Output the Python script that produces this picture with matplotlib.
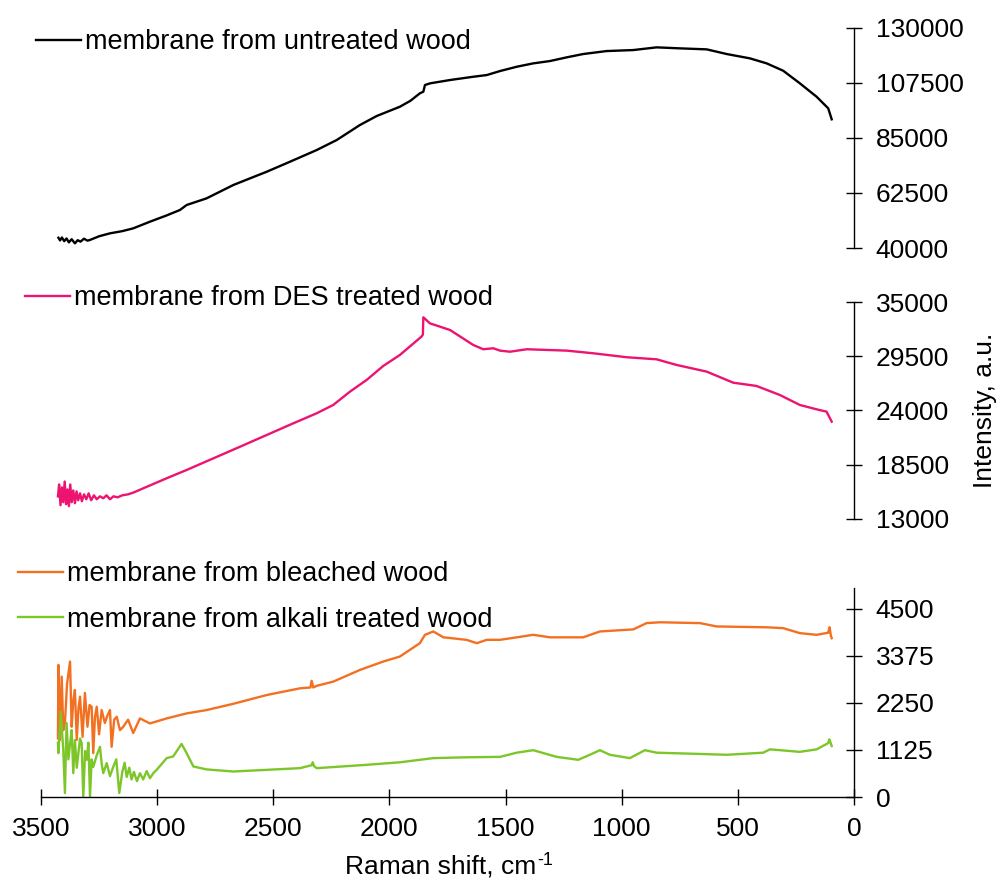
import matplotlib
matplotlib.use("Agg")
import matplotlib.pyplot as plt

plt.rcParams['font.family'] = ['Liberation Sans', 'DejaVu Sans']

# Raman spectra: shift in cm-1, intensity in a.u.
untreated_x = [3425, 3418, 3410, 3400, 3390, 3380, 3368, 3354, 3342, 3330, 3315, 3300,
               3289, 3250, 3203, 3150, 3103, 3031, 2960, 2902, 2873, 2787, 2672, 2600,
               2528, 2428, 2313, 2227, 2127, 2055, 1955, 1910, 1869, 1854, 1847, 1825,
               1739, 1639, 1581, 1524, 1452, 1381, 1309, 1237, 1166, 1065, 950, 850,
               749, 634, 548, 448, 376, 305, 233, 161, 111, 96]
untreated_y = [44200, 43100, 44300, 42800, 43900, 42300, 43600, 41900, 43200, 42600, 43800, 43000,
               43300, 44800, 46000, 46900, 48040, 50760, 53300, 55540, 57590, 60320, 65770, 68500,
               71210, 75300, 80080, 84170, 90310, 93990, 97790, 100200, 103270, 103950, 106670, 107360,
               108720, 110060, 110750, 112390, 114150, 115530, 116480, 117990, 119350, 120570, 120980, 122080,
               121670, 121260, 119350, 117580, 115530, 112530, 107360, 101880, 97140, 92640]

des_x = [3427, 3422, 3416, 3410, 3404, 3398, 3392, 3386, 3380, 3374, 3368, 3361,
         3354, 3347, 3340, 3332, 3324, 3315, 3305, 3295, 3284, 3272, 3260, 3246,
         3232, 3218, 3203, 3188, 3170, 3150, 3125, 3100, 3060, 2959, 2873, 2758,
         2643, 2528, 2414, 2313, 2242, 2170, 2098, 2027, 1955, 1862, 1856, 1854,
         1826, 1739, 1639, 1596, 1553, 1524, 1481, 1409, 1237, 1122, 979, 850,
         764, 634, 520, 420, 319, 233, 161, 118, 96]
des_y = [15300, 16500, 14400, 16200, 14700, 16800, 14500, 16000, 14300, 16500, 14700, 15900,
         14600, 15800, 14900, 15600, 14800, 15500, 15000, 15600, 14900, 15400, 15000, 15300,
         15100, 15400, 15000, 15300, 15200, 15400, 15500, 15700, 16110, 17130, 17970, 19150,
         20330, 21520, 22700, 23720, 24560, 25910, 27100, 28510, 29630, 31490, 31700, 33450,
         32840, 32160, 30640, 30210, 30310, 30070, 29960, 30210, 30070, 29800, 29400, 29190,
         28620, 27940, 26820, 26490, 25570, 24560, 24120, 23880, 22870]

bleached_x = [3427, 3425, 3418, 3411, 3404, 3397, 3388, 3375, 3368, 3361, 3354, 3346,
              3339, 3332, 3321, 3311, 3300, 3291, 3282, 3275, 3268, 3260, 3250, 3239,
              3225, 3214, 3203, 3196, 3185, 3174, 3160, 3146, 3125, 3103, 3074, 3031,
              2959, 2873, 2787, 2672, 2528, 2385, 2340, 2335, 2328, 2313, 2242, 2127,
              2027, 1955, 1869, 1847, 1811, 1768, 1668, 1624, 1581, 1524, 1452, 1381,
              1309, 1166, 1094, 950, 893, 835, 663, 591, 376, 305, 233, 161,
              111, 105, 100, 96]
bleached_y = [1400, 3160, 1365, 2880, 1600, 1770, 2700, 3240, 1680, 2300, 2560, 1365,
              2100, 2400, 1440, 2490, 1680, 2200, 2160, 1050, 1900, 2160, 1500, 2080,
              1770, 1950, 2080, 1200, 1850, 1920, 1600, 1680, 1850, 1530, 1880, 1760,
              1880, 2000, 2080, 2230, 2440, 2600, 2620, 2780, 2620, 2660, 2760, 3040,
              3240, 3360, 3680, 3880, 3960, 3820, 3760, 3680, 3760, 3760, 3820, 3880,
              3820, 3820, 3960, 4010, 4160, 4180, 4160, 4080, 4060, 4040, 3920, 3880,
              3930, 4060, 3870, 3800]

alkali_x = [3427, 3425, 3415, 3404, 3397, 3390, 3382, 3375, 3368, 3361, 3354, 3346,
            3339, 3332, 3325, 3318, 3310, 3303, 3296, 3289, 3282, 3275, 3260, 3246,
            3239, 3232, 3217, 3203, 3189, 3176, 3163, 3150, 3140, 3131, 3120, 3110,
            3100, 3087, 3074, 3060, 3045, 3031, 3015, 3002, 2959, 2931, 2895, 2873,
            2844, 2787, 2672, 2528, 2385, 2335, 2330, 2325, 2313, 2098, 1955, 1811,
            1668, 1524, 1452, 1381, 1280, 1187, 1137, 1094, 1051, 965, 900, 850,
            663, 548, 391, 362, 233, 161, 111, 106, 96]
alkali_y = [1300, 1050, 2040, 1110, 95, 1770, 900, 1270, 1600, 570, 1365, 700,
            1050, 1400, 1290, 10, 1100, 890, 1300, 10, 900, 720, 1000, 1200,
            800, 570, 810, 500, 720, 900, 95, 600, 820, 480, 700, 420,
            600, 380, 570, 420, 620, 450, 580, 650, 930, 970, 1270, 1050,
            730, 660, 610, 650, 690, 760, 830, 740, 690, 770, 830, 930,
            950, 960, 1060, 1120, 960, 890, 1010, 1120, 1010, 930, 1120, 1060,
            1030, 1010, 1060, 1140, 1080, 1140, 1290, 1380, 1220]

x_ticks = [3500, 3000, 2500, 2000, 1500, 1000, 500, 0]
top_ticks = [40000, 62500, 85000, 107500, 130000]
mid_ticks = [13000, 18500, 24000, 29500, 35000]
bot_ticks = [0, 1125, 2250, 3375, 4500]

c_untreated = '#000000'
c_des = '#EC1470'
c_bleached = '#F37021'
c_alkali = '#7DC62A'

FS = 19
W, H = 1002, 880
fig = plt.figure(figsize=(W / 100, H / 100), dpi=100)


def panel(top_px, bottom_px):
    return fig.add_axes([41 / W, 1 - bottom_px / H, 813 / W, (bottom_px - top_px) / H])


def style(ax, ticks, ylim, show_x):
    ax.set_xlim(3500, 0)
    ax.set_ylim(*ylim)
    ax.set_facecolor('none')
    for side in ('top', 'left'):
        ax.spines[side].set_visible(False)
    ax.spines['right'].set_linewidth(1.0)
    ax.yaxis.tick_right()
    ax.set_yticks(ticks)
    ax.tick_params(axis='y', direction='inout', length=11, width=1.0,
                   labelsize=FS, pad=10)
    if show_x:
        ax.spines['bottom'].set_linewidth(1.0)
        ax.set_xticks(x_ticks)
        ax.tick_params(axis='x', direction='inout', length=11, width=1.0,
                       labelsize=FS, pad=9)
    else:
        ax.spines['bottom'].set_visible(False)
        ax.set_xticks([])


ax1 = panel(28, 248)
ax2 = panel(302, 519)
ax3 = panel(588, 797)

style(ax1, top_ticks, (40000, 130000), False)
style(ax2, mid_ticks, (13000, 35000), False)
style(ax3, bot_ticks, (0, 5000), True)

lw = 1.7
ax1.plot(untreated_x, untreated_y, color=c_untreated, lw=lw,
         label='membrane from untreated wood')
ax2.plot(des_x, des_y, color=c_des, lw=lw, label='membrane from DES treated wood')
ax3.plot(bleached_x, bleached_y, color=c_bleached, lw=lw,
         label='membrane from bleached wood')
ax3.plot(alkali_x, alkali_y, color=c_alkali, lw=lw,
         label='membrane from alkali treated wood')

leg_kw = dict(frameon=False, fontsize=19.5, loc='center left', borderpad=0,
              borderaxespad=0, handlelength=1.65, handletextpad=0.17,
              bbox_transform=fig.transFigure)
ax1.legend(bbox_to_anchor=(36 / W, 1 - 42 / H), **leg_kw)
ax2.legend(bbox_to_anchor=(25 / W, 1 - 298 / H), **leg_kw)
ax3.legend(bbox_to_anchor=(18 / W, 1 - 597 / H), labelspacing=0.72, **leg_kw)

# x label with a plain-hyphen superscript
ax3.set_xlabel('Raman shift, cm', fontsize=FS, labelpad=9.5)
ax3.xaxis.label.set_x(0.491)
fig.canvas.draw()
bb = ax3.xaxis.label.get_window_extent()
fig.text(bb.x1 + 1, bb.y1 + 2, '-1', fontsize=13, ha='left', va='top',
         transform=None)

fig.text(985 / W, 1 - 410 / H, 'Intensity, a.u.', rotation=90,
         ha='center', va='center', fontsize=FS)

fig.savefig('out.png', dpi=100)
